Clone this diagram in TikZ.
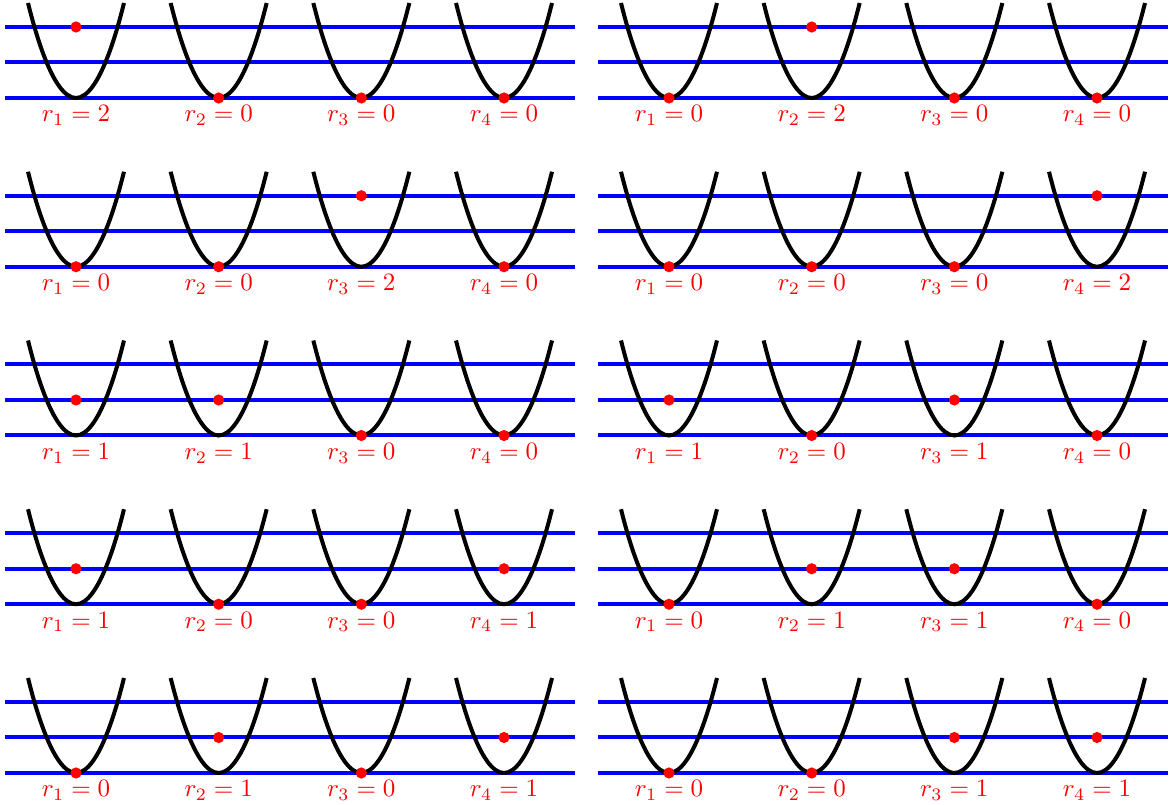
\documentclass[tikz,border=0pt]{standalone}
\begin{document}
\begin{tikzpicture}[x=0.4pt,y=-0.4pt,
  level/.style={draw=blue,line width=1.6pt},
  well/.style={draw=black,line width=1.6pt},
  ball/.style={fill=red},
  lab/.style={text=red,inner sep=0pt,anchor=base}]
\useasboundingbox (0,0) rectangle (1175,805);
\foreach \r/\p/\a/\b/\c/\d in {0/0/2/0/0/0, 0/1/0/2/0/0, 1/0/0/0/2/0, 1/1/0/0/0/2,
  2/0/1/1/0/0, 2/1/1/0/1/0, 3/0/1/0/0/1, 3/1/0/1/1/0, 4/0/0/1/0/1, 4/1/0/0/1/1}{
  \pgfmathsetmacro{\base}{98+168.75*\r}
  \pgfmathsetmacro{\off}{593*\p}
  \foreach \h in {0,35.5,71}{
    \draw[level] ({5+\off},{\base-\h}) -- ({575+\off},{\base-\h});
  }
  \foreach \k/\v in {1/\a,2/\b,3/\c,4/\d}{
    \pgfmathsetmacro{\cx}{76+142.67*(\k-1)+\off}
    \draw[well] ({\cx-48},{\base-95}) parabola bend ({\cx},{\base}) ({\cx+48},{\base-95});
    \fill[ball] ({\cx},{\base-35.5*\v}) circle[radius=5.6];
    \node[lab] (lab-\r-\p-\k) at ({\cx},{\base+24}) {$r_{\k}=\v$};
  }
}
\end{tikzpicture}
\end{document}
